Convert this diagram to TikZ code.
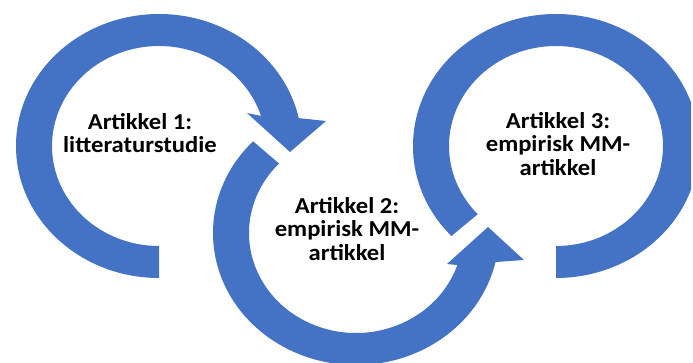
\documentclass[tikz,border=0pt]{standalone}
\usepackage{fontspec}
\setmainfont{Carlito}
\definecolor{ringblue}{HTML}{4472C4}

\begin{document}
\begin{tikzpicture}[x=1pt,y=1pt,
    ring/.style={fill=ringblue},
    tekst/.style={font=\fontsize{22.8}{23.5}\selectfont\bfseries, align=center, inner sep=0pt, xscale=1.08}]
    \useasboundingbox (0,0) rectangle (693,362);
    \clip (0,0) rectangle (691,362);

    \begin{scope}[shift={(159,216)}]
      \fill[ring] (-90:143 and 132) arc[start angle=-90, end angle=-347.8, x radius=143, y radius=132]
        -- (167,25) -- (131,-6) -- (88,33) -- (-342.5:107 and 100)
        arc[start angle=-342.5, end angle=-90, x radius=107, y radius=100] -- cycle;
    \end{scope}

    \begin{scope}[shift={(356,129)}]
      \fill[ring] (136:143 and 132) arc[start angle=136, end angle=347.3, x radius=143, y radius=132]
        -- (168,-27) -- (132,6) -- (91,-31) -- (341.3:107 and 100)
        arc[start angle=341.3, end angle=136, x radius=107, y radius=100] -- cycle;
    \end{scope}

    \begin{scope}[shift={(556,216)}]
      \fill[ring] (223:143 and 132) arc[start angle=223, end angle=-90, x radius=143, y radius=132]
        -- (-90:107 and 100)
        arc[start angle=-90, end angle=223, x radius=107, y radius=100] -- cycle;
    \end{scope}

    \node[tekst] (art1) at (140,228.8) {Artikkel 1:\\litteraturstudie};
    \node[tekst] (art2) at (347,133.3) {Artikkel 2:\\empirisk MM-\\artikkel};
    \node[tekst] (art3) at (558,218.3) {Artikkel 3:\\empirisk MM-\\artikkel};
\end{tikzpicture}
\end{document}
